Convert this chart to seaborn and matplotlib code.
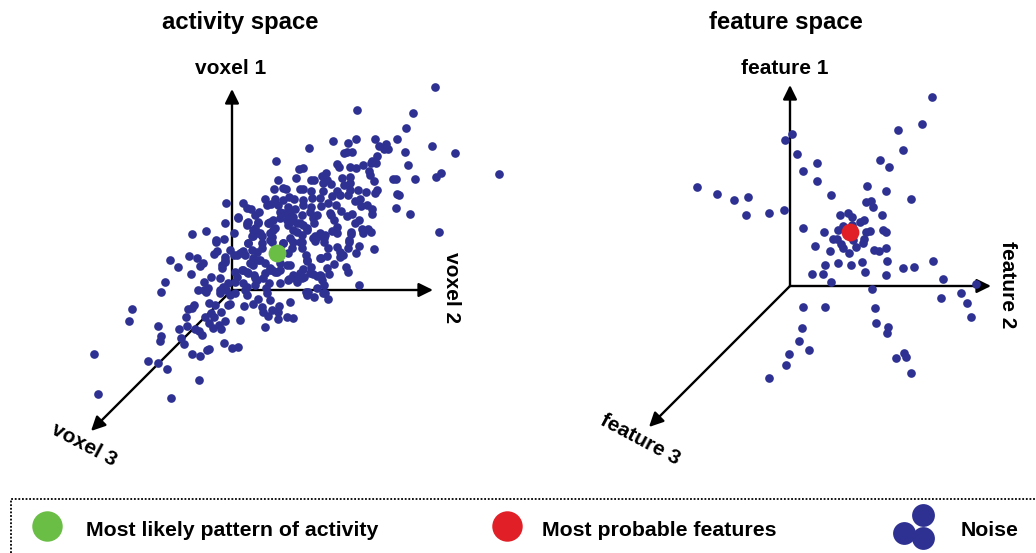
import matplotlib
matplotlib.use("Agg")
import matplotlib.pyplot as plt
import pandas as pd
import seaborn as sns

# point positions (x, y in picture pixels)
activity_noise = [
    (276,161),(299,169),(296,178),(278,180),(274,189),(283,188),(286,189),(300,189),(265,199),(275,199),
    (283,200),(289,197),(294,199),(226,203),(243,203),(247,208),(251,209),(267,205),(271,204),(278,205),
    (288,207),(295,209),(255,215),(259,212),(280,212),(285,213),(290,213),(238,218),(225,223),(248,222),
    (247,225),(258,223),(273,220),(280,218),(287,220),(293,217),(269,223),(288,225),(297,223),(255,228),
    (275,228),(293,230),(206,231),(192,234),(234,233),(252,236),(258,233),(262,236),(270,233),(272,237),
    (290,238),(216,240),(224,239),
    (435,87),(357,110),(413,113),(406,128),(333,141),(348,143),(356,139),(375,139),(397,139),(309,148),
    (379,146),(386,144),(384,149),(388,149),(432,146),(344,153),(347,152),(352,152),(405,152),(455,153),
    (377,156),(337,164),(339,167),(350,167),(356,168),(363,165),(371,163),(376,163),(372,161),(408,165),
    (303,168),(369,171),(370,175),(326,173),(322,176),(441,173),(436,177),(499,174),(393,179),(396,179),
    (415,179),(374,181),(311,180),(314,180),(342,178),(350,177),(327,180),(331,184),(323,183),(344,185),
    (350,183),(303,189),(311,191),(323,191),(337,191),(358,190),(350,190),(366,192),(377,190),(375,193),
    (397,194),(399,195),(332,196),(340,195),(348,195),(312,198),(320,198),(303,200),(360,199),(355,201),
    (328,203),(336,205),(321,206),(361,206),(367,205),(311,207),(310,212),(303,205),(396,208),(372,209),
    (372,214),(341,211),(330,213),(331,215),(410,214),(352,214),(347,216),(317,215),(313,218),(314,223),
    (302,215),(334,220),(359,220),(355,223),(303,225),(307,230),(337,227),(362,229),(368,229),(371,232),
    (363,233),(332,231),(337,233),(351,232),(351,234),(439,232),(320,233),(315,236),(325,235),(313,238),
    (324,238),(349,240),(302,235),
    (374,249),(337,247),(340,252),(343,255),(340,257),(349,242),(348,248),(359,246),(356,253),(328,248),
    (315,241),(324,242),(302,242),(302,248),(306,255),(307,261),(321,258),(327,256),(334,264),(346,267),
    (348,272),(327,268),(329,274),(311,267),(303,269),(313,274),(317,276),(321,276),(304,277),(322,280),
    (324,285),(359,285),(317,288),(306,292),(307,295),(314,297),(325,293),(328,299),
    (170,260),(178,267),(189,256),(197,258),(200,266),(203,263),(191,274),(165,282),(161,292),(132,309),
    (129,321),(158,326),(161,336),(160,341),(94,354),(98,394),(148,361),(158,363),(167,369),(171,398),
    (199,380),(192,354),(200,356),(207,350),(209,349),(224,343),(232,348),(238,347),(184,344),(181,338),
    (179,329),(187,326),(195,329),(199,331),(202,335),(186,317),(188,309),(192,308),(194,305),(205,317),
    (209,303),(215,305),(211,313),(214,317),(221,312),(209,323),(213,328),(219,325),(225,321),(221,329),
    (240,320),(265,327),(230,304),(228,305),(244,306),(253,304),(258,299),(262,307),(263,312),(268,316),
    (272,310),(278,312),(279,306),(278,319),(287,317),(293,318),(290,302),(270,300),(267,293),(266,288),
    (247,295),(245,290),(235,293),(230,295),(220,290),(220,293),(226,290),(223,287),(228,283),(198,290),
    (204,290),(208,288),(204,282),(206,292),(211,277),(220,278),(235,282),(237,277),(235,272),(243,283),
    (247,287),(242,270),(247,272),(222,265),(222,268),(225,262),(225,257),(214,254),(217,251),(230,250),
    (234,255),(240,253),(243,251),(245,255),(216,242),(250,263),(253,258),(252,250),(248,243),(262,248),
    (260,260),(265,263),(272,242),(283,243),(293,242),(288,253),(287,265),(280,263),(272,270),(277,272),
    (290,265),(254,275),(257,280),(255,285),(263,278),(269,283),(280,283),(289,279),(293,275),(297,282),
    (300,273),(238,217),(247,223),(253,230),(258,222),(268,223),(273,230),(260,233),(253,236),(248,243),
    (242,252),(237,255),(225,260),(243,270),(248,273),(255,278),(265,273),(270,270),(275,272),(288,280),
    (295,278),(302,278),(310,273),(320,275),(308,292),(323,293),(257,252),(262,243),(270,240),(283,243),
    (258,260),(253,265),(270,268),(280,270),(282,213),(290,222),(300,223),(307,228),(297,232),(292,248),
    (300,242),(307,260),(317,237),(320,258),(270,222),
]
feature_noise = [
    (932,97),(922,124),(898,130),(792,134),(785,140),(903,150),(797,154),(880,160),(817,163),(889,167),
    (803,171),(817,181),(697,187),(717,194),(734,200),(748,197),(746,215),(769,213),(784,210),(867,186),
    (886,191),(831,195),(911,199),(866,202),(871,201),(873,207),(882,215),(840,215),(848,213),(852,217),
    (860,222),(864,220),(803,228),(843,226),(852,225),(838,230),(824,232),(866,232),(870,231),(883,230),
    (886,232),(833,239),(837,239),(853,240),(864,239),(863,243),(841,244),(843,248),(856,247),(815,246),
    (830,251),(849,253),(874,250),(879,251),(886,248),(862,262),(887,261),(838,263),(825,265),(851,265),
    (865,272),(812,274),(823,274),(886,275),(903,268),(914,267),(933,261),(943,279),(831,282),(976,284),
    (872,289),(941,298),(961,293),(967,303),(971,317),(803,307),(825,307),(875,308),(876,323),(802,328),
    (888,327),(887,333),(799,341),(809,350),(789,354),(786,365),(769,378),(904,353),(906,357),(896,358),
    (911,373),
]
activity_peak = (277, 253)
feature_peak = (850, 232)

legend_labels = ["Most likely pattern of activity", "Most probable features", "Noise"]
noise_blob = [(923, 515), (904, 533), (923, 538)]

blue = "#2e3192"
green = "#6abd45"
red = "#e01f26"

sns.set_style("white")
plt.rcParams['font.family'] = ['Liberation Sans', 'DejaVu Sans']
plt.rcParams['font.weight'] = 'bold'
plt.rcParams['text.color'] = 'black'

fig = plt.figure(figsize=(10.36, 5.53), dpi=100)
ax_left = fig.add_axes([0, 0, 0.5, 1])
ax_right = fig.add_axes([0.5, 0, 0.5, 1])
ax_leg = fig.add_axes([0, 0, 1, 1])

ax_left.set_xlim(0, 518)
ax_right.set_xlim(518, 1036)
ax_leg.set_xlim(0, 1036)
for ax in [ax_left, ax_right, ax_leg]:
    ax.set_ylim(553, 0)
    ax.axis("off")


def draw_panel(ax, noise, peak, peak_color, origin, names, title, title_x):
    ox, oy = origin
    # three axis arrows
    for tip in [(ox, oy - 201), (ox + 201, oy), (ox - 141, oy + 141)]:
        ax.annotate("", xy=tip, xytext=origin,
                    arrowprops=dict(arrowstyle="-|>,head_length=0.85,head_width=0.42", color="black",
                                    lw=1.7, shrinkA=0, shrinkB=0))
    df = pd.DataFrame(noise, columns=["x", "y"])
    sns.scatterplot(data=df, x="x", y="y", ax=ax, color=blue, s=39, linewidth=0, zorder=3)
    sns.scatterplot(x=[peak[0]], y=[peak[1]], ax=ax, color=peak_color, s=165, linewidth=0, zorder=4)
    ax.set_xlabel("")
    ax.set_ylabel("")
    ax.text(title_x, 23, title, fontsize=17.2, ha="center", va="center")
    ax.text(names[0][0], names[0][1], names[0][2], fontsize=15, ha="center", va="center")
    ax.text(names[1][0], names[1][1], names[1][2], fontsize=15, ha="center", va="center", rotation=-90)
    ax.text(names[2][0], names[2][1], names[2][2], fontsize=15, ha="center", va="center", rotation=-28)


draw_panel(ax_left, activity_noise, activity_peak, green, (232, 290),
           [(231, 69, "voxel 1"), (451, 288, "voxel 2"), (84, 445, "voxel 3")],
           "activity space", 240)
draw_panel(ax_right, feature_noise, feature_peak, red, (790, 286),
           [(785, 69, "feature 1"), (1007, 285, "feature 2"), (640, 440, "feature 3")],
           "feature space", 786)

# legend strip
ax_leg.plot([11, 11, 1036], [553, 499, 499], color="black", lw=1.3, ls=(0, (1, 1)), clip_on=False)
sns.scatterplot(x=[47], y=[526], ax=ax_leg, color=green, s=480, linewidth=0)
sns.scatterplot(x=[507], y=[526], ax=ax_leg, color=red, s=480, linewidth=0)
sns.scatterplot(x=[p[0] for p in noise_blob], y=[p[1] for p in noise_blob], ax=ax_leg, color=blue, s=270, linewidth=0)
ax_leg.set_xlabel("")
ax_leg.set_ylabel("")
ax_leg.text(86, 530, legend_labels[0], fontsize=15.3, va="center")
ax_leg.text(542, 530, legend_labels[1], fontsize=15.3, va="center")
ax_leg.text(961, 530, legend_labels[2], fontsize=15.3, va="center")

fig.savefig("out.png", dpi=100)
